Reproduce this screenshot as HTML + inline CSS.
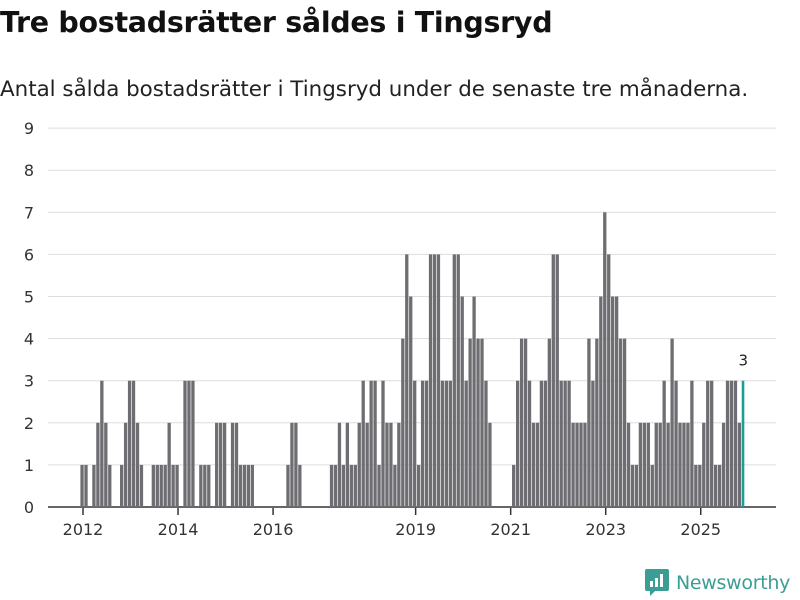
<!DOCTYPE html>
<html><head><meta charset="utf-8"><style>
body{margin:0;width:800px;height:600px;background:#fff;font-family:"DejaVu Sans","Liberation Sans",sans-serif;overflow:hidden;position:relative}
#title{position:absolute;left:0;top:6px;font-size:28.5px;font-weight:bold;color:#111;margin:0;letter-spacing:-0.3px;white-space:nowrap}
#sub{position:absolute;left:0;top:77px;font-size:21.4px;color:#222;white-space:nowrap}
svg{position:absolute;left:0;top:0}
</style></head><body>
<h1 id="title">Tre bostadsrätter såldes i Tingsryd</h1>
<div id="sub">Antal sålda bostadsrätter i Tingsryd under de senaste tre månaderna.</div>
<svg id="chart" width="800" height="600"></svg>
<script>
const values = [
1,1,0,1,2,3,2,1,0,0,1,2,3,3,2,1,0,0,1,1,1,1,2,1,1,0,3,3,3,0,1,1,1,0,2,2,2,0,2,2,1,1,1,1,
0,0,0,0,0,0,0,0,1,2,2,1,0,0,0,0,0,0,0,
1,1,2,1,2,1,1,2,3,2,3,3,1,3,2,2,1,2,4,6,5,3,1,3,3,6,6,6,3,3,3,6,6,5,3,4,5,4,4,3,2,
0,0,0,0,0,
1,3,4,4,3,2,2,3,3,4,6,6,3,3,3,2,2,2,2,4,3,4,5,7,6,5,5,4,4,2,1,1,2,2,2,1,2,2,3,2,4,3,2,2,2,3,1,1,2,3,3,1,1,2,3,3,3,2,3
];
const yTicks = [0,1,2,3,4,5,6,7,8,9];
const xTickYears = [2012,2014,2016,2019,2021,2023,2025];
const lastLabel = "3";
const NS="http://www.w3.org/2000/svg";
const svg=document.getElementById('chart');
const x0=82, step=3.96, L=48, R=776;
const xs=i=>x0+i*step;
const ys=v=>507-42.1*v;
function mk(t,a){const e=document.createElementNS(NS,t);for(const k in a)e.setAttribute(k,a[k]);svg.appendChild(e);return e;}
yTicks.forEach(v=>{
  const g=mk('line',{x1:L,x2:R,y1:ys(v),y2:ys(v),stroke:v===0?'#333':'#ddd','stroke-width':v===0?1.5:1});
  
  
  const t=mk('text',{x:34,y:ys(v)+6,'text-anchor':'end','font-size':16,fill:'#333','font-family':'DejaVu Sans, Liberation Sans, sans-serif'});
  t.textContent=v;
  
  
});
values.forEach((v,i)=>{
  if(!v)return;
  const last=i===values.length-1;
  const r=mk('rect',{x:xs(i)-1.6,y:ys(v),width:last?2.6:3.3,height:507-ys(v),fill:last?'#1a9e96':'#6e6d72'});
  
  
});
const li=values.length-1;
const lt=mk('text',{x:xs(li),y:ys(values[li])-15,'text-anchor':'middle','font-size':15,fill:'#222','font-family':'DejaVu Sans, Liberation Sans, sans-serif'});
lt.textContent=lastLabel;


xTickYears.forEach(yr=>{
  const x=xs((yr-2012)*12)+1;
  const l=mk('line',{x1:x,x2:x,y1:508,y2:515,stroke:'#333','stroke-width':1.5});
  
  
  const t=mk('text',{x:x,y:535,'text-anchor':'middle','font-size':16,fill:'#333','font-family':'DejaVu Sans, Liberation Sans, sans-serif'});
  t.textContent=yr;
  
  
});
</script>
<div style="position:absolute;left:645px;top:569px;display:flex;align-items:center">
<svg width="24" height="28" viewBox="0 0 24 28" style="position:static"><path d="M2 0h20a2 2 0 0 1 2 2v18a2 2 0 0 1-2 2H10l-5 5v-5H2a2 2 0 0 1-2-2V2a2 2 0 0 1 2-2z" fill="#3a9e94"/><rect x="5" y="12" width="3" height="6" fill="#fff"/><rect x="10" y="9" width="3" height="9" fill="#fff"/><rect x="15" y="5" width="3" height="13" fill="#fff"/></svg>
<span style="color:#3a9e94;font-size:19px;margin-left:7px;font-family:'DejaVu Sans','Liberation Sans',sans-serif;letter-spacing:-0.3px">Newsworthy</span>
</div>
</body></html>
